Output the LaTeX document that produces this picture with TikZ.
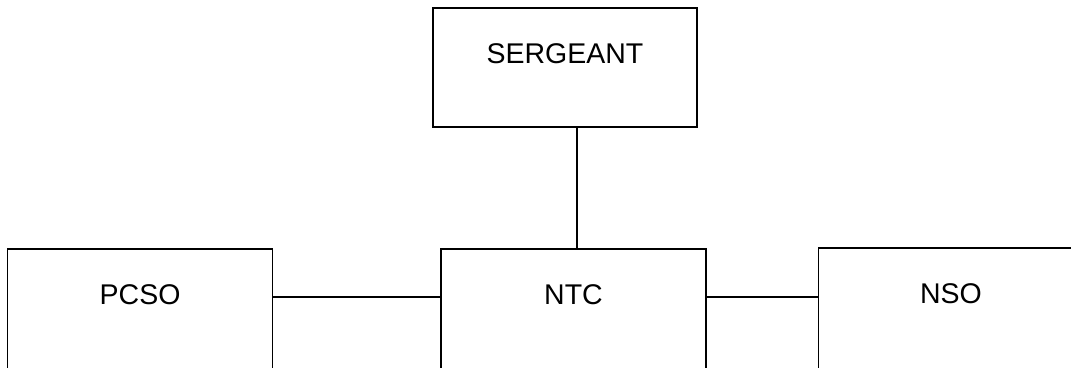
\documentclass[tikz,border=0pt]{standalone}
\usepackage{fontspec}
\setmainfont{Liberation Sans}
\usepackage{xcolor}
\usepackage{tikz}
\usetikzlibrary{positioning}
\definecolor{ink}{HTML}{000000}
\tikzset{
  every node/.style={font=\fontsize{28.5}{34}\selectfont,text=ink},
  rank/.style={draw=ink,line width=1.4pt,fill=white,inner sep=0pt,minimum width=265pt,text height=55.5pt,text depth=74.5pt},
  chief/.style={rank,minimum width=264pt,text depth=63.5pt},
  link/.style={draw=ink,line width=1.4pt}
}
\begin{document}
\begin{tikzpicture}[x=1pt,y=1pt,node distance=10pt and 10pt]
  \clip (0,0) rectangle (1071,367);
  \fill[white] (0,0) rectangle (1071,367);

  \node[rank] (ntc) at (573.5,53) {NTC};
  \node[rank,left=167pt of ntc] (pcso) {PCSO};
  \node[rank,right=111pt of ntc,yshift=1pt] (nso) {NSO};
  \node[chief] (sgt) at (565,299.5) {SERGEANT};

  \draw[link] ([xshift=3.5pt]ntc.north) -- ([xshift=3.5pt]ntc.north |- sgt.south);
  \draw[link] ([yshift=17pt]pcso.east) -- ([yshift=17pt]ntc.west);
  \draw[link] ([yshift=17pt]ntc.east) -- ([yshift=17pt]ntc.east -| nso.west);
\end{tikzpicture}
\end{document}
